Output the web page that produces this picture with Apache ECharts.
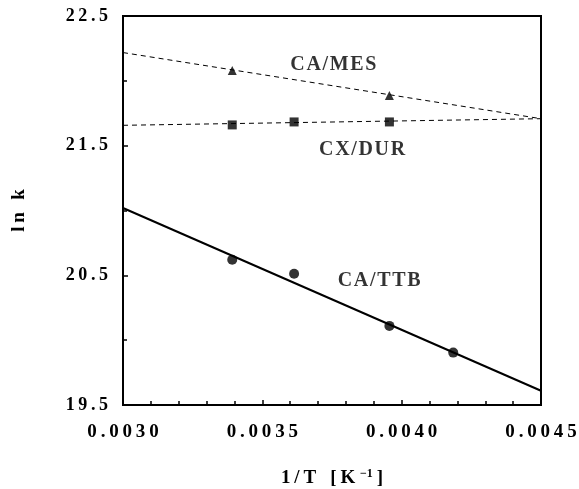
<!DOCTYPE html>
<html>
<head>
<meta charset="utf-8">
<script src="https://cdn.jsdelivr.net/npm/echarts@6/dist/echarts.min.js"></script>
<style>
html,body{margin:0;padding:0;background:#fff;}
#chart{width:579px;height:489px;}
</style>
</head>
<body>
<div id="chart"></div>
<script>
// ---- data ----
const xTicks = [0.0030, 0.0035, 0.0040, 0.0045];
const xTickLabels = ['0.0030', '0.0035', '0.0040', '0.0045'];
const yTicks = [19.5, 20.5, 21.5, 22.5];
const yTickLabels = ['19.5', '20.5', '21.5', '22.5'];

const mesX = [0.003392, 0.003956];
const mesY = [22.08, 21.886];
const durX = [0.003392, 0.003614, 0.003956];
const durY = [21.66, 21.683, 21.683];
const ttbX = [0.003392, 0.003614, 0.003956, 0.004185];
const ttbY = [20.62, 20.512, 20.11, 19.904];

const mesFitX = [0.0030, 0.0045];
const mesFitY = [22.218, 21.708];
const durFitX = [0.0030, 0.0045];
const durFitY = [21.657, 21.708];
const ttbFitX = [0.0030, 0.0045];
const ttbFitY = [21.019, 19.61];

const labelNames = ['CA/MES', 'CX/DUR', 'CA/TTB'];
const labelX = [0.003755, 0.003858, 0.003919];
const labelY = [22.125, 21.469, 20.458];

const xNameMain = '1/T';
const xNameUnit = '[K';
const xNameSup = '−1';
const yName = 'ln k';

// ---- helpers ----
const FONT = "'Liberation Serif', 'Times New Roman', serif";
const zip = (xs, ys) => xs.map((x, i) => [x, ys[i]]);
const spaced = (s, sep) => s.split('').join(sep);
const lookup = (ticks, labels, v) => {
  const i = ticks.findIndex(t => Math.abs(t - v) < 1e-9);
  return i >= 0 ? labels[i] : '';
};

const chart = echarts.init(document.getElementById('chart'), null, {renderer: 'canvas'});

const option = {
  backgroundColor: '#fff',
  animation: false,
  grid: {
    left: 123, right: 38, top: 16, bottom: 84, containLabel: false, outerBoundsMode: 'none',
    show: true, borderColor: '#000', borderWidth: 2, backgroundColor: 'transparent'
  },
  xAxis: {
    type: 'value', min: 0.0030, max: 0.0045, interval: 0.0005,
    axisLine: {show: true, onZero: false, lineStyle: {color: '#000', width: 2}},
    axisTick: {show: true, inside: true, length: 5, lineStyle: {color: '#000', width: 1.5}},
    minorTick: {show: true, splitNumber: 5, length: 4, lineStyle: {color: '#000', width: 1.5}},
    splitLine: {show: false},
    axisLabel: {
      margin: 18, color: '#000', fontFamily: FONT, fontSize: 19, fontWeight: 'bold',
      formatter: v => spaced(lookup(xTicks, xTickLabels, v), '\u2009')
    },
    nameLocation: 'middle',
    name: '{a|' + spaced(xNameMain, '\u2009') + '   ' + spaced(xNameUnit, '\u2009') + ' }{s|' + xNameSup + '}{a|\u2009]}',
    nameGap: 63,
    nameTextStyle: {
      color: '#000', fontFamily: FONT, fontWeight: 'bold',
      rich: {
        a: {fontFamily: FONT, fontSize: 19, fontWeight: 'bold', color: '#000', lineHeight: 20, verticalAlign: 'bottom'},
        s: {fontFamily: FONT, fontSize: 12, fontWeight: 'bold', color: '#000', lineHeight: 20, verticalAlign: 'top', padding: [0, 0, 6, 0]}
      }
    }
  },
  yAxis: {
    type: 'value', min: 19.5, max: 22.5, interval: 1,
    axisLine: {show: true, onZero: false, lineStyle: {color: '#000', width: 2}},
    axisTick: {show: true, inside: true, length: 5, lineStyle: {color: '#000', width: 1.5}},
    minorTick: {show: true, splitNumber: 2, length: 4, lineStyle: {color: '#000', width: 1.5}},
    splitLine: {show: false},
    axisLabel: {
      margin: 15, color: '#000', fontFamily: FONT, fontSize: 18, fontWeight: 'bold',
      formatter: v => spaced(lookup(yTicks, yTickLabels, v), '\u2009')
    },
    name: spaced(yName, '\u2009'), nameLocation: 'middle', nameRotate: 90, nameGap: 94,
    nameTextStyle: {color: '#000', fontFamily: FONT, fontSize: 19, fontWeight: 'bold'}
  },
  series: [
    {
      type: 'line', data: zip(mesFitX, mesFitY), symbol: 'none', silent: true,
      lineStyle: {color: '#000', width: 1, type: [5, 4]}
    },
    {
      type: 'line', data: zip(durFitX, durFitY), symbol: 'none', silent: true,
      lineStyle: {color: '#000', width: 1, type: [5, 4]}
    },
    {
      type: 'line', data: zip(ttbFitX, ttbFitY), symbol: 'none', silent: true,
      lineStyle: {color: '#000', width: 2}
    },
    {type: 'scatter', data: zip(mesX, mesY), symbol: 'triangle', symbolSize: 9, itemStyle: {color: '#000'}},
    {type: 'scatter', data: zip(durX, durY), symbol: 'rect', symbolSize: 9, itemStyle: {color: '#000'}},
    {type: 'scatter', data: zip(ttbX, ttbY), symbol: 'circle', symbolSize: 10, itemStyle: {color: '#000'}},
    {
      type: 'scatter', symbolSize: 0, silent: true,
      data: labelNames.map((n, i) => ({name: n, value: [labelX[i], labelY[i]]})),
      label: {
        show: true, position: 'inside', color: '#000', fontFamily: FONT, fontSize: 20, fontWeight: 'bold',
        formatter: p => spaced(p.name, '\u200A')
      }
    }
  ]
};
chart.setOption(option);
</script>
</body>
</html>
